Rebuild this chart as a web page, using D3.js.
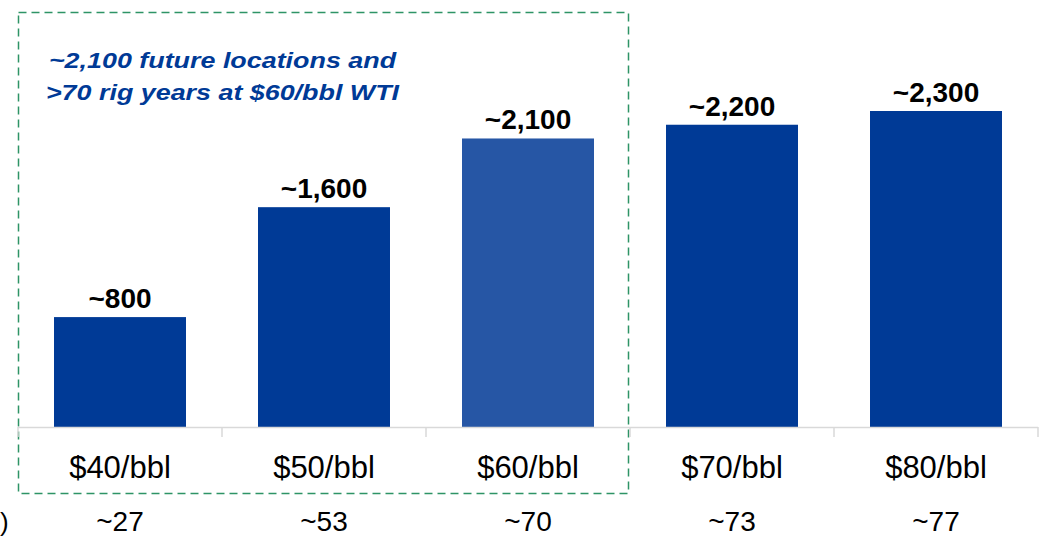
<!DOCTYPE html>
<html><head><meta charset="utf-8">
<script src="https://cdn.jsdelivr.net/npm/d3@7"></script>
<style>
body{margin:0;background:#fff;}
svg{display:block;font-family:Arial,"Liberation Sans",sans-serif;}
</style></head>
<body><svg id="c" width="1041" height="545"></svg>
<script>
const categories = ["$40/bbl","$50/bbl","$60/bbl","$70/bbl","$80/bbl"];
const locations = [800,1600,2100,2200,2300];
const valueLabels = ["~800","~1,600","~2,100","~2,200","~2,300"];
const rigYears = ["~27","~53","~70","~73","~77"];
const highlight = "$60/bbl";
const annotation = ["~2,100 future locations and",">70 rig years at $60/bbl WTI"];

const svg = d3.select("#c");
const x = d3.scaleBand().domain(categories).range([18,1038]).paddingInner(0.353).paddingOuter(0.1765);
const y = d3.scaleLinear().domain([0,2300]).range([427,111]);

// dashed box
svg.append("rect").attr("x",18.5).attr("y",12.5).attr("width",610).attr("height",481)
  .attr("fill","none").attr("stroke","#2e9466").attr("stroke-width",1.5).attr("stroke-dasharray","8,5");

svg.selectAll("rect.bar").data(categories).enter().append("rect").attr("class","bar")
  .attr("x",d=>x(d)).attr("width",x.bandwidth())
  .attr("y",(d,i)=>y(locations[i])).attr("height",(d,i)=>y(0)-y(locations[i]))
  .attr("fill",d=>d===highlight?"#2656a5":"#003a96");

svg.selectAll("text.val").data(categories).enter().append("text").attr("class","val")
  .attr("x",d=>x(d)+x.bandwidth()/2).attr("y",(d,i)=>y(locations[i])-9)
  .attr("text-anchor","middle").attr("font-size",28).attr("font-weight","bold").attr("fill","#000")
  .text((d,i)=>valueLabels[i]);

// axis
const step = x.step();
const axisG = svg.append("g");
axisG.append("line").attr("x1",18).attr("x2",1038).attr("y1",427.5).attr("y2",427.5)
  .attr("stroke","#d9d9d9").attr("stroke-width",1.5);
const tickPos = categories.map(d=>x(d)-x.paddingInner()*step/2).concat([1038]);
axisG.selectAll("line.tick").data(tickPos).enter().append("line").attr("class","tick")
  .attr("x1",d=>d).attr("x2",d=>d).attr("y1",427).attr("y2",437)
  .attr("stroke","#d9d9d9").attr("stroke-width",1.5);

svg.selectAll("text.cat").data(categories).enter().append("text").attr("class","cat")
  .attr("x",d=>x(d)+x.bandwidth()/2).attr("y",478)
  .attr("text-anchor","middle").attr("font-size",31).attr("fill","#000").text(d=>d);

svg.selectAll("text.rig").data(categories).enter().append("text").attr("class","rig")
  .attr("x",d=>x(d)+x.bandwidth()/2).attr("y",531)
  .attr("text-anchor","middle").attr("font-size",28).attr("fill","#000").text((d,i)=>rigYears[i]);

svg.append("text").attr("x",0).attr("y",531).attr("text-anchor","start").attr("font-size",26).text(")");

svg.append("g").selectAll("text").data(annotation).enter().append("text")
  .attr("transform",(d,i)=>`translate(222.5,${68+i*32}) scale(1.25,1)`)
  .attr("text-anchor","middle")
  .attr("font-size",21.5).attr("font-weight","bold").attr("font-style","italic").attr("fill","#003a96")
  .text(d=>d);
</script></body></html>
